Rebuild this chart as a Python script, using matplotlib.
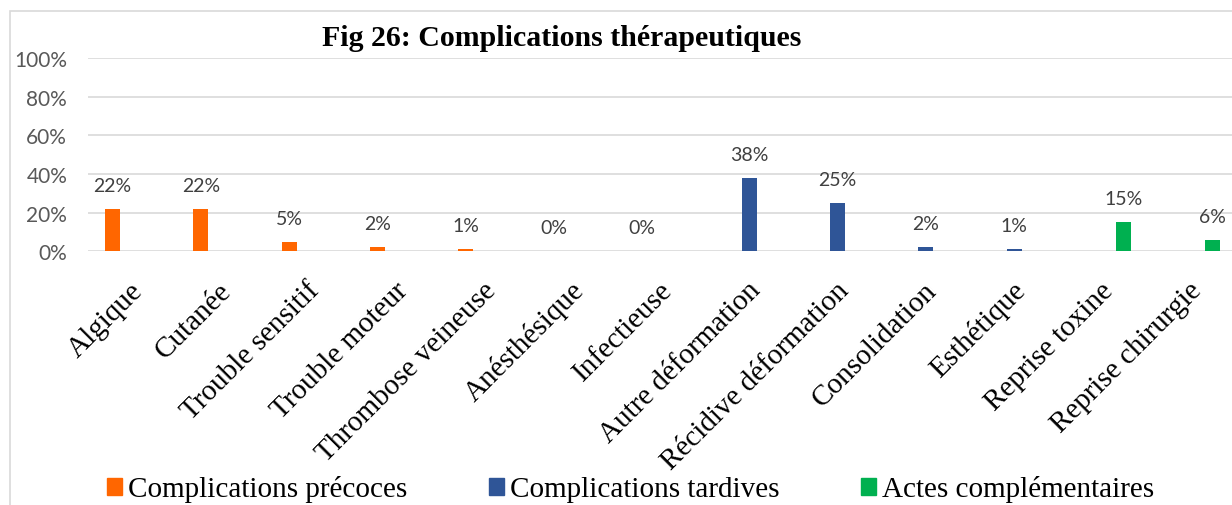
import numpy as np
import matplotlib.pyplot as plt
import matplotlib.transforms as mtransforms
from matplotlib.patches import Rectangle

# données
categories = ['Algique', 'Cutanée', 'Trouble sensitif', 'Trouble moteur',
              'Thrombose veineuse', 'Anésthésique', 'Infectieuse',
              'Autre déformation', 'Récidive déformation', 'Consolidation',
              'Esthétique', 'Reprise toxine', 'Reprise chirurgie']
series_names = ['Complications précoces', 'Complications tardives', 'Actes complémentaires']
precoces = [0.22, 0.22, 0.05, 0.02, 0.01, 0.00, 0.00, None, None, None, None, None, None]
tardives = [None, None, None, None, None, None, None, 0.38, 0.25, 0.02, 0.01, None, None]
actes = [None, None, None, None, None, None, None, None, None, None, None, 0.15, 0.06]
colors = ['#ff6600', '#2f5597', '#00b050']
y_ticks = [0, 0.2, 0.4, 0.6, 0.8, 1.0]

W, H = 1232, 506
fig = plt.figure(figsize=(W / 100, H / 100), dpi=100)
fig.patch.set_facecolor('white')

# zone de tracé (coupée à droite comme sur l'original)
left, right, top, bottom = 88, 88 + 13 * 88.2, 59, 252.3
ax = fig.add_axes([left / W, 1 - bottom / H, (right - left) / W, (bottom - top) / H])

x = np.arange(len(categories))
offsets = [-0.22, 0.0, 0.245]
bar_w = 0.17
for vals, off, col in zip([precoces, tardives, actes], offsets, colors):
    for i, v in enumerate(vals):
        if v is None:
            continue
        ax.bar(x[i] + off, v, width=bar_w, color=col, zorder=3)
        ax.annotate(f"{v:.0%}", (x[i] + off, v), xytext=(0, 13), textcoords='offset points',
                    ha='center', va='baseline', fontsize=14, color='#404040',
                    family=['Lato', 'DejaVu Sans'])

ax.set_xlim(-0.5, len(categories) - 0.5)
ax.set_ylim(0, 1)
ax.set_yticks(y_ticks)
ax.set_yticklabels([f"{t:.0%}" for t in y_ticks], fontsize=15, color='#595959',
                   family=['Lato', 'DejaVu Sans'])
ax.yaxis.grid(True, color='#d9d9d9', linewidth=1.2, zorder=0)
ax.tick_params(axis='y', length=0, pad=15)
for s in ax.spines.values():
    s.set_visible(False)

ax.set_xticks(x)
ax.set_xticklabels(categories, rotation=45, ha='right', va='center',
                   rotation_mode='anchor', fontsize=21, family='Liberation Serif')
ax.tick_params(axis='x', length=0, pad=25)
shift = mtransforms.ScaledTranslation(7 / 100, 0, fig.dpi_scale_trans)
for lab in ax.get_xticklabels():
    lab.set_transform(lab.get_transform() + shift)

fig.text(562 / W, 1 - 39 / H, 'Fig 26: Complications thérapeutiques', ha='center', va='center',
         fontsize=21.5, fontweight='bold', family='Liberation Serif')

# bordure de la zone de graphique
fig.patches.append(Rectangle((9.5 / W, -0.1), 1.2, 1 - 12 / H + 0.1, transform=fig.transFigure,
                             fill=False, edgecolor='#d9d9d9', linewidth=1.2))

handles = [Rectangle((0, 0), 1, 1, color=c) for c in colors]
fig.legend(handles, series_names, loc='center left', bbox_to_anchor=(107 / W, 1 - 490 / H),
           ncol=3, frameon=False, handlelength=0.52, handleheight=0.52, handletextpad=0.2,
           columnspacing=2.8, borderpad=0, borderaxespad=0,
           prop={'family': 'Liberation Serif', 'size': 21})

fig.savefig('out.png', dpi=100)
